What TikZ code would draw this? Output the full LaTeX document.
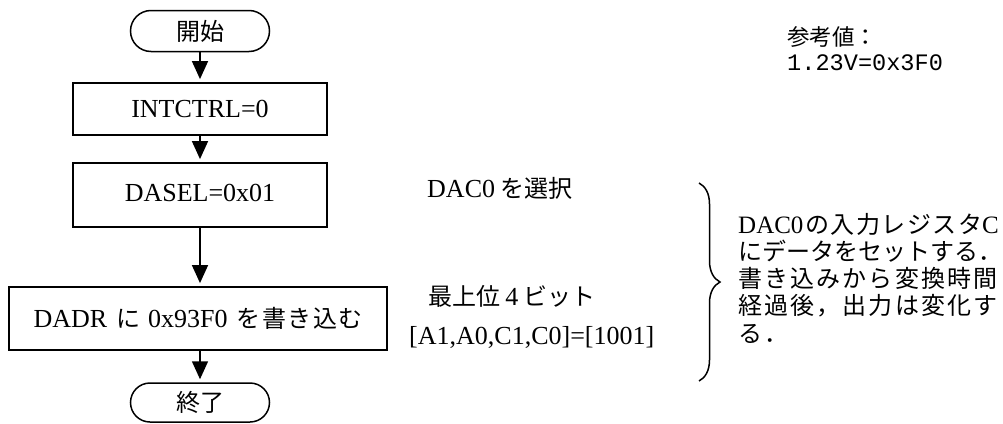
\documentclass[tikz,border=0pt]{standalone}
\usepackage{fontspec}
\setmainfont{Liberation Serif}
\newfontfamily\jpf{Noto Sans CJK JP}
\newfontfamily\jpsp[LetterSpace=9]{Noto Sans CJK JP}
\newfontfamily\jpdd[LetterSpace=6]{Noto Sans CJK JP}
\setmonofont{Liberation Mono}
\usetikzlibrary{arrows.meta,decorations.pathreplacing,shapes.misc}
\newcommand\jr[1]{{\fontsize{24}{27}\selectfont\jpsp #1}}
\newcommand\jrb[1]{{\fontsize{24}{27}\selectfont\jpf #1}}
\newcommand\jl[1]{{\fontsize{24}{27}\selectfont\jpf #1}}
\newcommand\jd[1]{{\fontsize{24}{27}\selectfont\jpdd #1}}
\newcommand\lr[1]{{\fontsize{25}{27}\selectfont\rmfamily #1}}
\begin{document}
\begin{tikzpicture}[x=1pt,y=-1pt,
  term/.style={draw,rounded rectangle,minimum width=139pt,minimum height=41pt,line width=1.5pt,inner sep=0pt,font=\fontsize{24}{27}\selectfont\jpf},
  proc/.style={draw,rectangle,line width=1.8pt,inner sep=0pt,font=\fontsize{26}{30}\selectfont},
  arr/.style={line width=1.5pt,-{Triangle[width=16pt,length=18pt]},shorten >=3pt},
  txt/.style={inner sep=0pt,anchor=base west,font=\fontsize{26}{30}\selectfont},
  rtxt/.style={inner sep=0pt,anchor=base west,font=\fontsize{25}{27}\selectfont},
  brc/.style={line width=1.5pt,decorate,decoration={brace,amplitude=21pt}},
]
\useasboundingbox (0,0) rectangle (1003,423);
% flowchart
\node[term] (start) at (200,31) {開始};
\node[proc,minimum width=254pt,minimum height=52pt] (intctrl) at (200,109) {INTCTRL=0};
\node[proc,minimum width=254pt,minimum height=64pt] (dasel) at (200,195) {\raisebox{4pt}{DASEL=0x01}};
\node[proc,minimum width=378pt,minimum height=63pt] (dadr) at (198,318.5) {DADR\hspace{0.35em}\jd{に}\hspace{0.3em}0x93F0\hspace{0.35em}\jd{を書き込む}};
\node[term,minimum height=39pt] (endn) at (200,402.5) {終了};
\draw[arr] (start.south) -- (start.south |- intctrl.north);
\draw[arr] (intctrl.south) -- (dasel.north);
\draw[arr] (dasel.south) -- (dasel.south |- dadr.north);
\draw[arr] (dasel.south |- dadr.south) -- (endn.north);
% notes
\node[txt] (n1) at (427,197) {DAC0\hspace{0.2em}\jl{を選択}};
\node[txt] (n2) at (428,305) {\jl{最上位}\hspace{0.2em}4\hspace{0.2em}\jl{ビット}};
\node[txt] (n3) at (409,344) {[A1,A0,C1,C0]=[1001]};
% brace
\coordinate (b1) at (699,183);
\coordinate (b2) at (699,381);
\draw[brc] (b1) -- (b2);
\node[rtxt] (r1) at (738,233) {\lr{DAC0}\hspace{2pt}\jd{の入力レジスタ}\lr{C}};
\node[rtxt] (r2) at (738,260) {\jrb{にデータをセットする．}};
\node[rtxt] (r3) at (738,287) {\jr{書き込みから変換時間}};
\node[rtxt] (r4) at (738,314) {\jr{経過後，出力は変化す}};
\node[rtxt] (r5) at (738,342) {\jr{る．}};
% reference value
\node[inner sep=0pt,anchor=base west,font=\fontsize{22.5}{25}\selectfont\jpf] (ref1) at (787,45.5) {参考値：};
\node[inner sep=0pt,anchor=base west,font=\fontsize{23.6}{25}\selectfont\ttfamily] (ref2) at (787,70) {1.23V=0x3F0};
\end{tikzpicture}
\end{document}
